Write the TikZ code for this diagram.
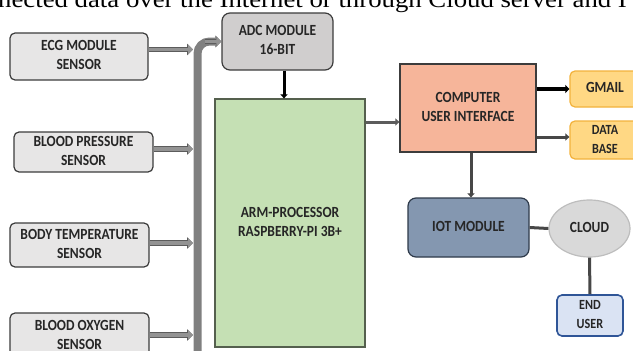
\documentclass[tikz,border=0pt]{standalone}
\usepackage{fontspec}
\setmainfont{Carlito}
\newfontfamily\serifx{Liberation Serif}
\usetikzlibrary{arrows.meta,shapes.geometric}
\definecolor{sens}{HTML}{E7E6E6}
\definecolor{adcf}{HTML}{D0CECE}
\definecolor{armf}{HTML}{C5E0B4}
\definecolor{armd}{HTML}{55604E}
\definecolor{compf}{HTML}{F6B59A}
\definecolor{gmf}{HTML}{FFD884}
\definecolor{gmd}{HTML}{F2B23C}
\definecolor{iotf}{HTML}{8497B0}
\definecolor{iotd}{HTML}{2E3A4A}
\definecolor{clf}{HTML}{D9D9D9}
\definecolor{cld}{HTML}{BDBDBD}
\definecolor{euf}{HTML}{DAE3F3}
\definecolor{eud}{HTML}{2F5597}
\definecolor{txt}{HTML}{262626}
\definecolor{busc}{HTML}{808080}
\newcommand\sq[1]{\scalebox{0.87}[1]{\begin{tabular}{@{}c@{}}#1\end{tabular}}}
\tikzset{
  box/.style={draw=txt!90, line width=1.2pt, rounded corners=5pt, align=center,
    font=\bfseries\fontsize{15.5}{19}\selectfont, text=txt, inner sep=0pt},
  sensor/.style={box, fill=sens},
  fat/.style={line width=3.6pt, draw=busc!85, -{Triangle[length=5pt,width=10pt,fill=busc!85]},
    preaction={draw=txt!75, line width=5.2pt, -{Triangle[length=6pt,width=11.5pt]}}},
  arr/.style={line width=3pt, draw=txt!85, -{Triangle[length=4pt,width=7pt]}},
  ln/.style={line width=3pt, draw=txt!85},
}
\begin{document}
\begin{tikzpicture}[x=1pt,y=-1pt]
\useasboundingbox (0,0) rectangle (633,351);
\begin{scope}
\clip (0,0) rectangle (633,351);
\node[anchor=base west, inner sep=0pt, font=\serifx\fontsize{24}{26}\selectfont] (top) at (-2,7)
  {\scalebox{1.115}[1]{nected data over the Internet or through Cloud server and I}};
% sensors
\node[sensor, minimum width=138pt, minimum height=47pt] (ecg) at (79,56.5) {\sq{ECG MODULE\\SENSOR}};
\node[sensor, minimum width=139pt, minimum height=40pt] (bp) at (83.5,152) {\sq{BLOOD PRESSURE\\SENSOR}};
\node[sensor, minimum width=139pt, minimum height=44pt] (bt) at (79.5,245) {\sq{BODY TEMPERATURE\\SENSOR}};
\node[sensor, minimum width=139pt, minimum height=47pt] (bo) at (79.5,336.5) {\sq{BLOOD OXYGEN\\SENSOR}};
% ADC and ARM
\node[box, fill=adcf, minimum width=111pt, minimum height=57pt, rounded corners=8pt] (adc) at (277.5,41.5) {\sq{ADC MODULE\\16-BIT}};
\node[box, fill=armf, draw=armd, rounded corners=0pt, minimum width=150pt, minimum height=248pt] (arm) at (290,223) {\sq{ARM-PROCESSOR\\RASPBERRY-PI 3B+}};
% bus
\coordinate (busb) at (197.5,360);
\draw[line width=8pt, draw=busc, rounded corners=12pt] (busb) |- ([xshift=-6pt]adc.west);
\draw[fat] (205,41.5) -- (adc.west);
\coordinate (busx) at (193,0);
\draw[fat] ([yshift=7pt]ecg.east) -- ([yshift=7pt]ecg.east -| busx);
\draw[fat] ([yshift=3pt]bp.east) -- ([yshift=3pt]bp.east -| busx);
\draw[fat] ([yshift=2pt]bt.east) -- ([yshift=2pt]bt.east -| busx);
\draw[fat] ([yshift=1.5pt]bo.east) -- ([yshift=1.5pt]bo.east -| busx);
\draw[arr, draw=black] ([xshift=6.5pt]adc.south) -- ([xshift=6.5pt]adc.south |- arm.north);
% right part
\node[box, fill=compf, rounded corners=0pt, minimum width=136pt, minimum height=88pt] (comp) at (468,108) {\sq{COMPUTER\\USER INTERFACE}};
\node[box, fill=gmf, draw=gmd, minimum width=70pt, minimum height=36pt] (gm) at (605,89) {\sq{GMAIL}};
\node[box, fill=gmf, draw=gmd, minimum width=70pt, minimum height=36pt, font=\bfseries\fontsize{14}{19}\selectfont] (db) at (605,140) {\sq{DATA\\BASE}};
\coordinate (ac) at (0,122);
\draw[arr, draw=txt!75] (arm.east |- ac) -- (comp.west |- ac);
\draw[arr, draw=black, line width=4.5pt, -{Triangle[length=4pt,width=8pt]}] (comp.east |- gm) -- (gm.west);
\draw[arr] ([yshift=3pt]comp.east |- db) -- ([yshift=3pt]db.west);
\node[box, fill=iotf, draw=iotd, minimum width=121pt, minimum height=59pt, rounded corners=8pt] (iot) at (468.5,227.5) {\sq{IOT MODULE}};
\node[ellipse, draw=cld, line width=1.2pt, fill=clf, minimum width=81pt, minimum height=57pt, inner sep=0pt,
  font=\bfseries\fontsize{15.5}{19}\selectfont, text=txt] (cloud) at (589.5,228.5) {\sq{CLOUD}};
\node[box, fill=euf, draw=eud, line width=1.6pt, minimum width=66pt, minimum height=41pt, font=\bfseries\fontsize{14}{19}\selectfont] (eu) at (590,315.5) {\sq{END\\USER}};
\draw[arr] ([xshift=3pt]comp.south) -- ([xshift=3pt]comp.south |- iot.north);
\draw[ln] (iot.east) -- (cloud.west);
\draw[ln] (cloud.south) -- (eu.north);
\end{scope}
\end{tikzpicture}
\end{document}
